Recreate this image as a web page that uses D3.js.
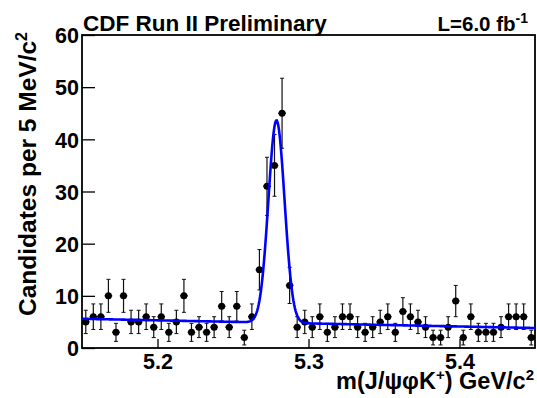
<!DOCTYPE html>
<html><head><meta charset="utf-8">
<script src="https://cdn.jsdelivr.net/npm/d3@7"></script>
<style>body{margin:0;background:#fff}svg{display:block}text{font-family:"Liberation Sans",Arial,sans-serif;font-weight:bold;fill:#000}</style>
</head><body>
<script>
// Histogram: 60 bins of 5 MeV from 5.15 to 5.45 GeV
const binLow = 5.15;
const binWidth = 0.005;
const counts = [5,6,6,10,3,10,5,5,6,4,6,3,5,10,3,4,3,4,8,4,8,2,6,15,31,35,45,12,4,
                5,4,6,3,4,6,6,4,3,4,5,6,3,7,6,5,4,2,2,4,9,2,6,3,3,3,4,6,6,6,2];
// Fit: Gaussian + linear background [amplitude, mean, sigma, bg at 5.15, slope]
const fitParams = [38.8, 5.2788, 0.00535, 5.6, -5.9];
const xTicks = [5.2, 5.3, 5.4];
const yTicks = [0, 10, 20, 30, 40, 50, 60];

const W = 537, H = 398;
const m = {left: 82, top: 35, right: 535, bottom: 348};
const svg = d3.select("body").append("svg").attr("width", W).attr("height", H);

const x = d3.scaleLinear().domain([5.15, 5.45]).range([m.left, m.right]);
const y = d3.scaleLinear().domain([0, 60]).range([m.bottom, m.top]);

// axes
const xAxis = d3.axisBottom(x).tickValues(xTicks).tickSize(-9).tickPadding(6).tickFormat(d3.format(".1f"));
const yAxis = d3.axisLeft(y).tickValues(yTicks).tickSize(-13).tickPadding(3).tickFormat(d3.format("d"));
const gx = svg.append("g").attr("transform", `translate(0,${m.bottom})`).call(xAxis);
const gy = svg.append("g").attr("transform", `translate(${m.left},0)`).call(yAxis);
[gx, gy].forEach(g => {
  g.select(".domain").remove();
  g.selectAll(".tick line").attr("stroke", "#000").attr("stroke-width", 1.3);
  g.selectAll(".tick text").style("font-size", "21.5px").attr("fill", "#000");
});
gx.selectAll(".tick text").attr("dy", "0.71em");
gy.selectAll(".tick text").attr("dy", "0.36em");

// frame
svg.append("rect").attr("x", m.left).attr("y", m.top)
  .attr("width", m.right - m.left).attr("height", m.bottom - m.top)
  .attr("fill", "none").attr("stroke", "#000").attr("stroke-width", 1.8);

// data points
const pts = counts.map((c, i) => ({lo: binLow + i * binWidth, c}));
const g = svg.append("g");
pts.forEach(p => {
  const cx = x(p.lo + binWidth / 2);
  const cy = y(p.c);
  const e = Math.sqrt(p.c);
  const yt = y(p.c + e), yb = y(Math.max(0, p.c - e));
  g.append("line").attr("x1", cx).attr("x2", cx).attr("y1", yt).attr("y2", yb)
    .attr("stroke", "#111").attr("stroke-width", 1.2);
  g.append("line").attr("x1", cx - 2).attr("x2", cx + 2).attr("y1", yt).attr("y2", yt)
    .attr("stroke", "#111").attr("stroke-width", 1);
  g.append("line").attr("x1", cx - 2).attr("x2", cx + 2).attr("y1", yb).attr("y2", yb)
    .attr("stroke", "#111").attr("stroke-width", 1);
  g.append("line").attr("x1", x(p.lo)).attr("x2", x(p.lo + binWidth)).attr("y1", cy).attr("y2", cy)
    .attr("stroke", "#000").attr("stroke-width", 1.4);
  g.append("circle").attr("cx", cx).attr("cy", cy).attr("r", 3.5).attr("fill", "#000");
});

// fit curve
const [A, mu, sig, b0, slope] = fitParams;
const fitFn = mm => A * Math.exp(-0.5 * ((mm - mu) / sig) ** 2) + b0 + slope * (mm - 5.15);
const samples = d3.range(0, 601).map(k => 5.15 + k * 0.0005);
svg.append("path").datum(samples)
  .attr("d", d3.line().x(d => x(d)).y(d => y(fitFn(d))))
  .attr("fill", "none").attr("stroke", "#0000ff").attr("stroke-width", 2.6);

// title texts
svg.append("text").attr("x", 83).attr("y", 31).style("font-size", "22.5px").text("CDF Run II Preliminary");
const lt = svg.append("text").attr("x", 528).attr("y", 31).attr("text-anchor", "end").style("font-size", "20.5px");
lt.append("tspan").text("L=6.0 fb");
lt.append("tspan").attr("dy", -8).style("font-size", "14px").text("-1");

// axis titles
const xt = svg.append("text").attr("x", 534).attr("y", 389).attr("text-anchor", "end").style("font-size", "23.5px");
xt.append("tspan").text("m(J/ψφK");
xt.append("tspan").attr("dy", -9).style("font-size", "15px").text("+");
xt.append("tspan").attr("dy", 9).text(") GeV/c");
xt.append("tspan").attr("dy", -9).style("font-size", "15px").text("2");

const yt = svg.append("text").attr("transform", "translate(36,32) rotate(-90)").attr("text-anchor", "end").style("font-size", "24.5px");
yt.append("tspan").text("Candidates per 5 MeV/c");
yt.append("tspan").attr("dy", -9).style("font-size", "16px").text("2");
</script>
</body></html>
